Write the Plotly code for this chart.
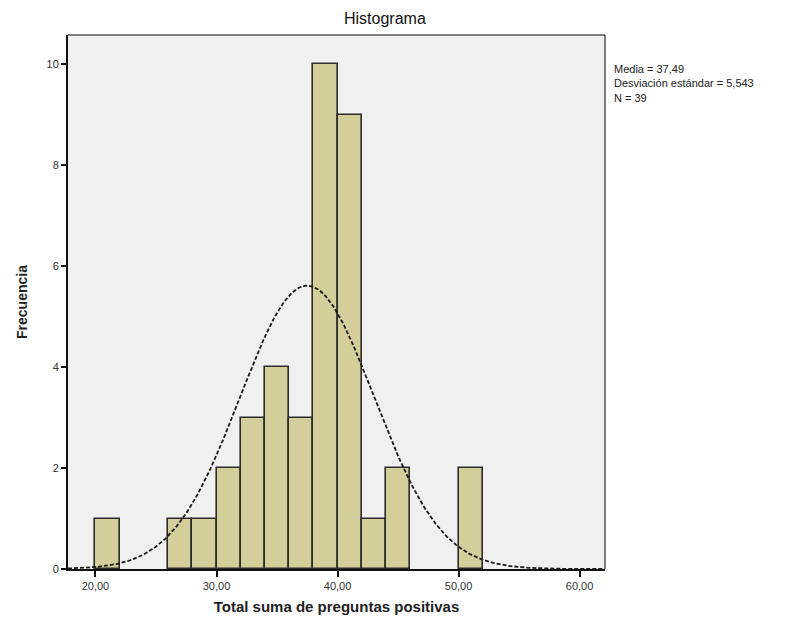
import numpy as np
import plotly.graph_objects as go

# Histogram bins (lower edge, width 2) and their frequencies
bin_starts = [20, 26, 28, 30, 32, 34, 36, 38, 40, 42, 44, 50]
counts = [1, 1, 1, 2, 3, 4, 3, 10, 9, 1, 2, 2]
bin_width = 2

# Summary statistics shown beside the plot
mean_val = 37.49
sd_val = 5.543
n_val = 39

x_ticks = [20, 30, 40, 50, 60]
y_ticks = [0, 2, 4, 6, 8, 10]

centers = [b + bin_width / 2 for b in bin_starts]

fig = go.Figure()
fig.add_trace(go.Bar(
    x=centers, y=counts, width=bin_width,
    marker=dict(color="#d4cf9a", line=dict(color="#2b2b2b", width=1.6)),
    hoverinfo="skip",
))

# Normal curve scaled to counts per bin
xs = np.linspace(17.73, 62.1, 400)
ys = n_val * bin_width / (sd_val * np.sqrt(2 * np.pi)) * np.exp(-0.5 * ((xs - mean_val) / sd_val) ** 2)
fig.add_trace(go.Scatter(
    x=xs, y=ys, mode="lines",
    line=dict(color="#1a1a1a", width=1.8, dash="4px,2px"),
    hoverinfo="skip",
))

font_family = "Liberation Sans, Arial, sans-serif"

fig.update_layout(
    width=801, height=630,
    margin=dict(l=68, r=196, t=35, b=61),
    paper_bgcolor="white",
    plot_bgcolor="#f0f0f0",
    showlegend=False,
    separators=",.",
    bargap=0,
    font=dict(family=font_family, color="#222"),
    xaxis=dict(
        range=[17.73, 62.1], tickvals=x_ticks, tickformat=".2f",
        showgrid=False, zeroline=False,
        showline=True, linecolor="#111", linewidth=2,
        ticks="outside", ticklen=6, tickcolor="#111", tickwidth=1.5,
        tickfont=dict(size=11, color="#333"),
        title=dict(text="<b>Total suma de preguntas positivas</b>",
                   font=dict(size=15, color="#222"), standoff=10),
    ),
    yaxis=dict(
        range=[0, 10.58], tickvals=y_ticks,
        showgrid=False, zeroline=False,
        showline=True, linecolor="#111", linewidth=2,
        ticks="outside", ticklen=5, tickcolor="#111", tickwidth=1.5,
        tickfont=dict(size=11, color="#333"),
        title=dict(text="<b>Frecuencia</b>",
                   font=dict(size=14, color="#222"), standoff=16),
    ),
    shapes=[
        dict(type="line", xref="paper", yref="paper", x0=0, x1=1, y0=1, y1=1,
             line=dict(color="#555", width=1.5)),
        dict(type="line", xref="paper", yref="paper", x0=1, x1=1, y0=0, y1=1,
             line=dict(color="#555", width=1.5)),
    ],
    annotations=[
        dict(text="Histograma", xref="paper", yref="paper",
             x=(385 - 68) / (605 - 68), y=1, yshift=6,
             xanchor="center", yanchor="bottom", showarrow=False,
             font=dict(size=16, color="#111")),
        dict(text=f"Media = {mean_val:.2f}".replace(".", ",")
                  + f"<br>Desviación estándar = {sd_val:.3f}".replace(".", ",")
                  + f"<br>N = {n_val}",
             xref="paper", yref="paper", x=1, y=1, xshift=7, yshift=-26,
             xanchor="left", yanchor="top", align="left", showarrow=False,
             font=dict(size=11, color="#222")),
    ],
)

fig.write_html("out.html")
